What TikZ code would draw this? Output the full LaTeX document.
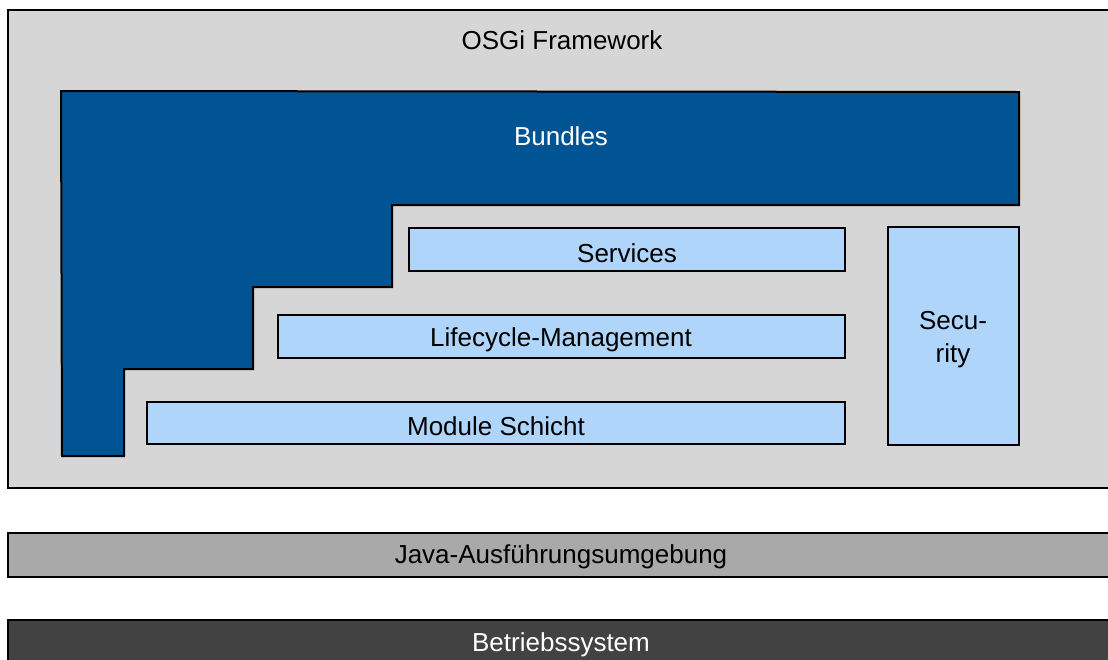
\documentclass[tikz,border=0pt]{standalone}
\usepackage{fontspec}
\setmainfont{Liberation Sans}
\definecolor{framegrey}{HTML}{D6D6D6}
\definecolor{bundleblue}{HTML}{005493}
\definecolor{layerblue}{HTML}{B0D5FA}
\definecolor{javagrey}{HTML}{A9A9A9}
\definecolor{osgrey}{HTML}{424242}
\tikzset{
  box/.style={draw=black, line width=2pt},
  lbl/.style={font=\fontsize{26}{33}\selectfont, inner sep=0pt, align=center},
}
\begin{document}
\begin{tikzpicture}[x=1pt,y=-1pt]
\useasboundingbox (0,0) rectangle (1108,659);
% OSGi frame
\filldraw[box, fill=framegrey] (8,10) rectangle (1112,488);
\node[lbl] (osgi) at (562,40) {OSGi Framework};
% Bundles
\filldraw[box, fill=bundleblue] (61,91) -- (1019,92) -- (1019,205) -- (392,205) -- (392,287) -- (253,287) -- (253,369) -- (124,369) -- (124,456) -- (62,456) -- cycle;
\node[lbl, text=white] (bundles) at (561,136) {Bundles};
% Layers
\filldraw[box, fill=layerblue] (409,228) rectangle (845,271);
\node[lbl] (services) at (627,253) {Services};
\filldraw[box, fill=layerblue] (278,315) rectangle (845,358);
\node[lbl] (lifecycle) at (561,340) {Lifecycle-Management};
\filldraw[box, fill=layerblue] (147,402) rectangle (845,444);
\node[lbl] (module) at (496,426) {Module Schicht};
\filldraw[box, fill=layerblue] (888,227) rectangle (1019,445);
\node[lbl] (security) at (953,340) {Secu-\\rity};
% Java
\filldraw[box, fill=javagrey] (8,533) rectangle (1112,577);
\node[lbl] (java) at (561,557) {Java-Ausführungsumgebung};
% OS
\filldraw[box, fill=osgrey] (8,620) rectangle (1112,670);
\node[lbl, text=white] (os) at (561,645) {Betriebssystem};
\end{tikzpicture}
\end{document}
